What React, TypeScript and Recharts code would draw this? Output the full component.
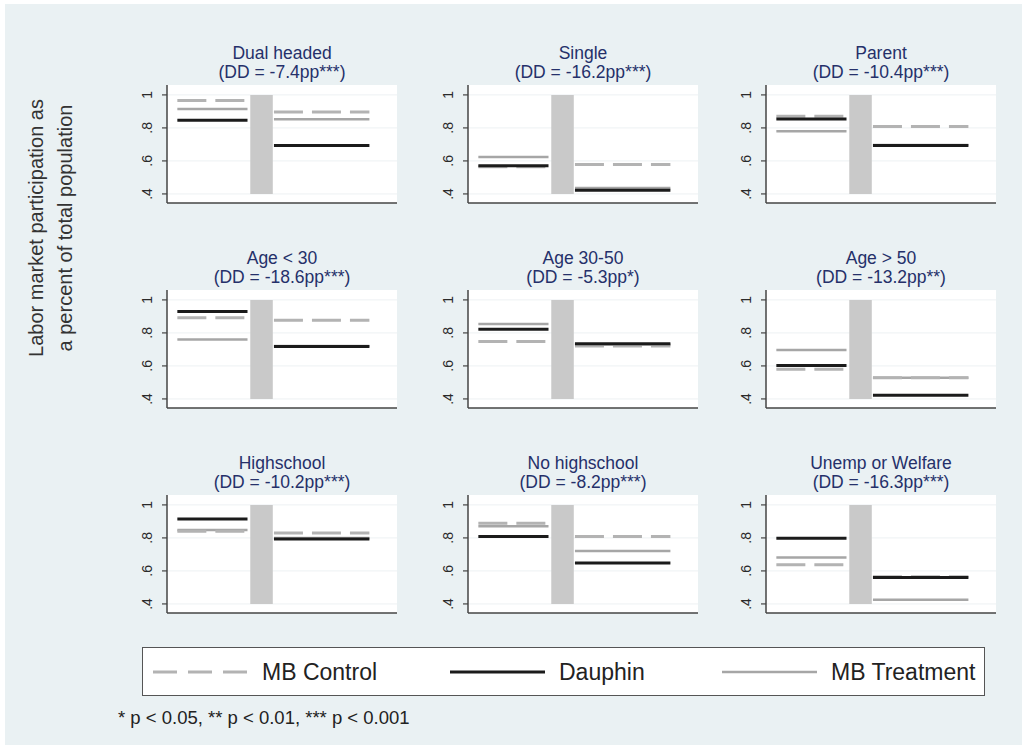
import React from 'react'
import { ComposedChart, Line, XAxis, YAxis, CartesianGrid, ReferenceArea } from 'recharts'

// one entry per panel, left to right, top to bottom
const TITLES = ['Dual headed', 'Single', 'Parent', 'Age < 30', 'Age 30-50', 'Age > 50', 'Highschool', 'No highschool', 'Unemp or Welfare']
const DD = ['-7.4pp***', '-16.2pp***', '-10.4pp***', '-18.6pp***', '-5.3pp*', '-13.2pp**', '-10.2pp***', '-8.2pp***', '-16.3pp***']

const CONTROL_PRE = [0.966, 0.565, 0.87, 0.892, 0.748, 0.58, 0.84, 0.889, 0.638]
const CONTROL_POST = [0.896, 0.578, 0.808, 0.876, 0.72, 0.528, 0.83, 0.808, 0.565]
const DAUPHIN_PRE = [0.846, 0.57, 0.854, 0.93, 0.822, 0.602, 0.915, 0.808, 0.798]
const DAUPHIN_POST = [0.694, 0.422, 0.694, 0.718, 0.734, 0.422, 0.794, 0.648, 0.56]
const TREAT_PRE = [0.914, 0.624, 0.78, 0.76, 0.854, 0.696, 0.848, 0.87, 0.681]
const TREAT_POST = [0.852, 0.436, 0.697, 0.72, 0.73, 0.528, 0.8, 0.72, 0.426]

// period positions on the x scale
const PRE_X = [0.45, 3.5]
const POST_X = [4.65, 8.8]
const GAP_X = 4.1
const EXPERIMENT = { x1: 3.62, x2: 4.6, y1: 0.4, y2: 1 }

const Y_TICKS = [0.4, 0.6, 0.8, 1]
const Y_LABELS: Record<string, string> = { '0.4': '.4', '0.6': '.6', '0.8': '.8', '1': '1' }

const COL_LEFT = [167, 468, 766]
const ROW_TOP = [85, 290, 495]
const PLOT_W = 230
const PLOT_H = 118
const AXIS_W = 35

const FONT = '"Liberation Sans", Arial, sans-serif'
const NAVY = '#25306a'

const YTick = (props: any) => {
  const { x, y, payload } = props
  const cx = x - 13
  return (
    <text x={cx} y={y} transform={`rotate(-90 ${cx} ${y})`} textAnchor="middle" dominantBaseline="central"
      fontSize={14} fontFamily={FONT} fill="#2a2a2a">
      {Y_LABELS[String(payload.value)]}
    </text>
  )
}

function Panel({ i }: { i: number }) {
  const data = [
    { x: PRE_X[0], control: CONTROL_PRE[i], dauphin: DAUPHIN_PRE[i], treat: TREAT_PRE[i] },
    { x: PRE_X[1], control: CONTROL_PRE[i], dauphin: DAUPHIN_PRE[i], treat: TREAT_PRE[i] },
    { x: GAP_X, control: null, dauphin: null, treat: null },
    { x: POST_X[0], control: CONTROL_POST[i], dauphin: DAUPHIN_POST[i], treat: TREAT_POST[i] },
    { x: POST_X[1], control: CONTROL_POST[i], dauphin: DAUPHIN_POST[i], treat: TREAT_POST[i] },
  ]
  const left = COL_LEFT[i % 3]
  const top = ROW_TOP[Math.floor(i / 3)]
  return (
    <>
      <div style={{
        position: 'absolute', left: left - 20, top: top - 41, width: PLOT_W + 40, textAlign: 'center',
        fontFamily: FONT, fontSize: 17.5, lineHeight: '19px', color: NAVY,
      }}>
        <div>{TITLES[i]}</div>
        <div>(DD = {DD[i]})</div>
      </div>
      <div style={{ position: 'absolute', left: left - AXIS_W, top }}>
        <ComposedChart width={AXIS_W + PLOT_W + 4} height={PLOT_H + 2} data={data}
          margin={{ top: 0, right: 4, left: 0, bottom: 0 }}>
          <CartesianGrid vertical={false} horizontalValues={Y_TICKS} stroke="#edf1f3" fill="#ffffff" />
          <XAxis dataKey="x" type="number" domain={[0, 10]} tick={false} tickLine={false} height={2}
            axisLine={{ stroke: '#444', strokeWidth: 1.5 }} />
          <YAxis type="number" domain={[0.345, 1.06]} ticks={Y_TICKS} width={AXIS_W} tick={<YTick />}
            tickSize={5} tickMargin={2} axisLine={{ stroke: '#444', strokeWidth: 1.5 }}
            tickLine={{ stroke: '#444', strokeWidth: 1.2 }} allowDataOverflow />
          <ReferenceArea x1={EXPERIMENT.x1} x2={EXPERIMENT.x2} y1={EXPERIMENT.y1} y2={EXPERIMENT.y2}
            fill="#c9c9c9" fillOpacity={1} stroke="none" ifOverflow="visible" />
          <Line dataKey="treat" stroke="#a6a6a6" strokeWidth={2.5} dot={false} isAnimationActive={false} connectNulls={false} />
          <Line dataKey="control" stroke="#b3b3b3" strokeWidth={3} strokeDasharray="29 9" dot={false} isAnimationActive={false} connectNulls={false} />
          <Line dataKey="dauphin" stroke="#1b1b1b" strokeWidth={3} dot={false} isAnimationActive={false} connectNulls={false} />
        </ComposedChart>
      </div>
    </>
  )
}

const LEGEND = [
  { name: 'MB Control', color: '#b3b3b3', dash: '24 11', width: 3 },
  { name: 'Dauphin', color: '#1b1b1b', dash: undefined, width: 3 },
  { name: 'MB Treatment', color: '#a6a6a6', dash: undefined, width: 2.5 },
]
const LEGEND_X = [153, 450, 722]

export default function App() {
  return (
    <div style={{ position: 'absolute', left: 0, top: 0, width: 1027, height: 750, background: '#fff', overflow: 'hidden' }}>
      <div style={{ position: 'absolute', left: 5, top: 4, width: 1017, height: 741, background: '#eaf1f3' }} />
      <div style={{
        position: 'absolute', left: 51 - 160, top: 228 - 29, width: 320, height: 58,
        transform: 'rotate(-90deg)', textAlign: 'center', fontFamily: FONT, fontSize: 20,
        lineHeight: '29px', color: '#333',
      }}>
        <div>Labor market participation as</div>
        <div>a percent of total population</div>
      </div>
      {TITLES.map((_, i) => <Panel key={i} i={i} />)}
      <div style={{
        position: 'absolute', left: 142, top: 647, width: 843, height: 49, background: '#fff',
        border: '1px solid #555', boxSizing: 'border-box',
      }} />
      {LEGEND.map((l, k) => (
        <div key={l.name} style={{ position: 'absolute', left: LEGEND_X[k], top: 655, height: 34, display: 'flex', alignItems: 'center' }}>
          <svg width={95} height={10}>
            <line x1={0} y1={5} x2={95} y2={5} stroke={l.color} strokeWidth={l.width} strokeDasharray={l.dash} />
          </svg>
          <span style={{ marginLeft: 14, fontFamily: FONT, fontSize: 23, color: '#222' }}>{l.name}</span>
        </div>
      ))}
      <div style={{ position: 'absolute', left: 118, top: 707, fontFamily: FONT, fontSize: 18.5, color: '#222' }}>
        * p &lt; 0.05, ** p &lt; 0.01, *** p &lt; 0.001
      </div>
    </div>
  )
}
